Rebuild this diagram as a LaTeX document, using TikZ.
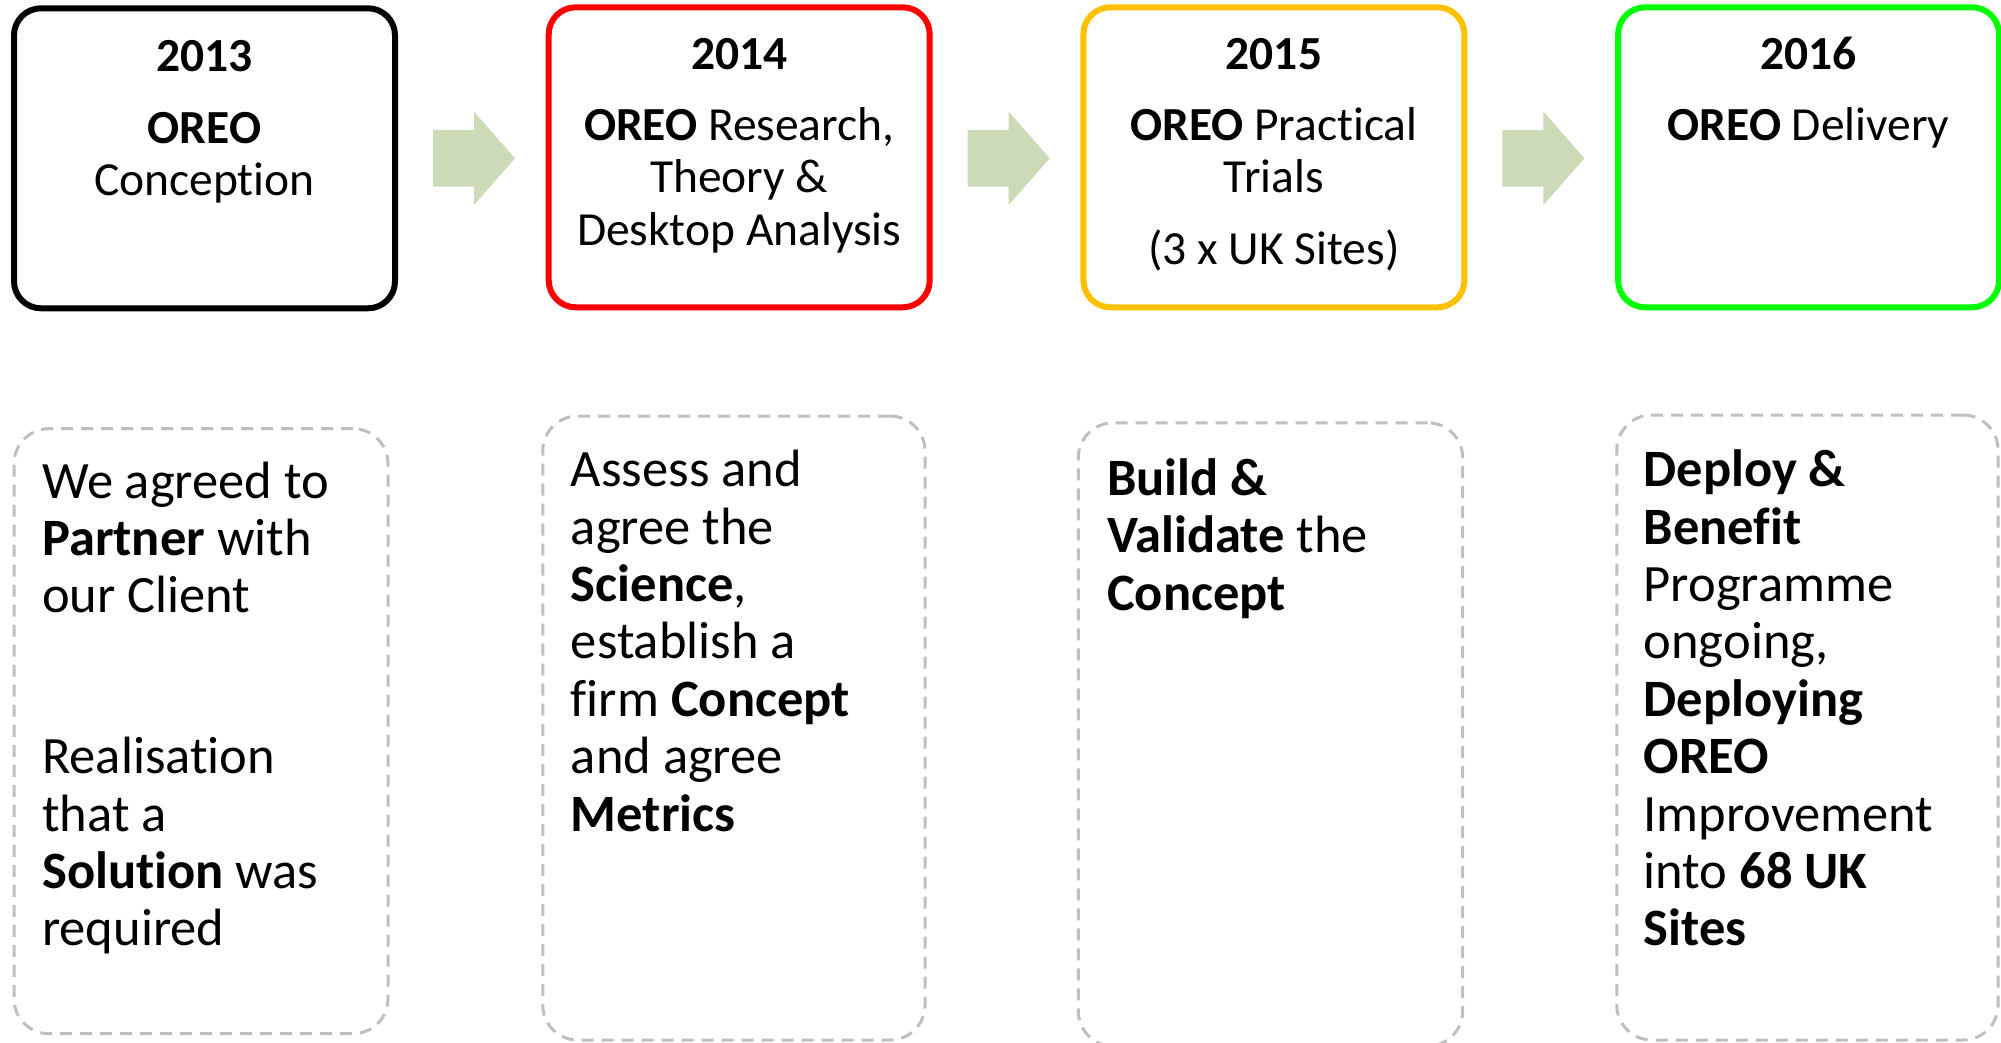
\documentclass[tikz,border=0pt]{standalone}
\usepackage{fontspec}
\setmainfont{Carlito}[Ligatures=NoCommon]
\definecolor{phaseorange}{RGB}{255,192,0}
\definecolor{phasegreen}{RGB}{0,255,0}
\definecolor{notegray}{RGB}{191,191,191}
\definecolor{arrowgreen}{RGB}{204,218,184}
\begin{document}
\begin{tikzpicture}[x=1pt,y=-1pt,
  phase/.style={draw, line width=6pt, rounded corners=27pt, minimum width=381pt,
    minimum height=300pt, inner sep=0pt, outer sep=0pt},
  note/.style={draw=notegray, line width=3pt, dash pattern=on 12pt off 8pt,
    rounded corners=35pt, inner sep=0pt, outer sep=0pt},
  year/.style={anchor=base, inner sep=0pt, font=\fontsize{47.5}{52.3}\selectfont\bfseries},
  title/.style={anchor=base, text width=370pt, align=flush center, inner sep=0pt,
    font=\fontsize{47.5}{52.3}\selectfont},
  body/.style={anchor=base west, text width=370pt, align=flush left, inner sep=0pt,
    font=\fontsize{52.5}{57.4}\selectfont},
  flow/.style={fill=arrowgreen, draw=none}]
\useasboundingbox (0,0) rectangle (2001,1042);

% phase boxes
\node[phase, draw=black] (p13) at (204.5,158.3) {};
\node[phase, draw=red] (p14) at (739.2,157.3) {};
\node[phase, draw=phaseorange] (p15) at (1273.9,157.3) {};
\node[phase, draw=phasegreen] (p16) at (1808.6,157.3) {};

% phase headings
\node[year] (y13) at (204.5,71.7) {2013};
\node[title] (t13) at (204.5,143.3) {\textbf{OREO}\\Conception};
\node[year] (y14) at (739.2,69.5) {2014};
\node[title] (t14) at (739.2,140.5) {\textbf{OREO} Research,\\Theory \&\\Desktop Analysis};
\node[year] (y15) at (1273.9,69.5) {2015};
\node[title] (t15) at (1273.9,140.5) {\textbf{OREO} Practical\\Trials\\[19.2pt](3 x UK Sites)};
\node[year] (y16) at (1808.6,69.5) {2016};
\node[title] (t16) at (1808.6,140.5) {\textbf{OREO} Delivery};

% block arrows between the phases
\foreach \n/\x in {a1/433, a2/967.7, a3/1502.4}{
  \coordinate (\n) at (\x,158.3);
  \fill[flow] (\n) ++(0,-28.35) -- ++(41,0) -- ++(0,-18.3) -- ++(41,46.65)
    -- ++(-41,46.65) -- ++(0,-18.3) -- ++(-41,0) -- cycle;
}

% dashed note panels
\node[note, minimum width=374pt, minimum height=605pt] (n13) at (201,731.2) {};
\node[note, minimum width=382.3pt, minimum height=624pt] (n14) at (733.9,728) {};
\node[note, minimum width=384.4pt, minimum height=623.3pt] (n15) at (1270.5,734.4) {};
\node[note, minimum width=381.3pt, minimum height=625pt] (n16) at (1807.4,727.5) {};

% panel texts
\node[body] (b13) at (42,498) {We agreed to\\\textbf{Partner} with\\our Client\\[103.4pt]Realisation\\that a\\\textbf{Solution} was\\required};
\node[body] (b14) at (570.7,486.7) {Assess and\\agree the\\\textbf{Science},\\establish a\\firm \textbf{Concept}\\and agree\\\textbf{Metrics}};
\node[body] (b15) at (1107,495.5) {\textbf{Build \&}\\\textbf{Validate} the\\\textbf{Concept}};
\node[body] (b16) at (1643.5,486.7) {\textbf{Deploy \&}\\\textbf{Benefit}\\Programme\\ongoing,\\\textbf{Deploying}\\\textbf{OREO}\\Improvement\\into \textbf{68 UK}\\\textbf{Sites}};
\end{tikzpicture}
\end{document}
